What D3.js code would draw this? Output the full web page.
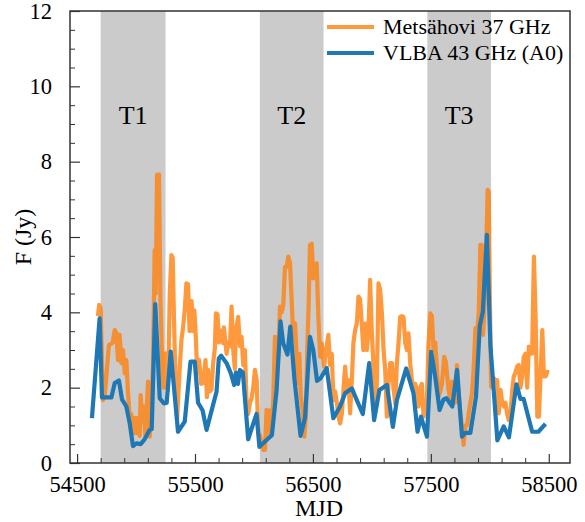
<!DOCTYPE html>
<html>
<head>
<meta charset="utf-8">
<script src="https://cdn.jsdelivr.net/npm/d3@7"></script>
<style>
  html, body { margin: 0; padding: 0; background: #fff; }
  svg { display: block; }
  text { font-family: "Liberation Serif", "Times New Roman", serif; fill: #000; }
</style>
</head>
<body>
<svg id="chart" width="585" height="522"></svg>
<script>
// Metsähovi 37 GHz single-dish light curve (MJD, Jy)
const mhMJD = [54677,54687,54700,54719,54734,54751,54770,54791,54802,54819,54833,54847,54861,54876,54889,54904,54918,54932,54946,54960,
  54974,54989,55003,55017,55031,55039,55054,55065,55079,55102,55116,55130,55144,55158,55167,55178,55195,55207,55224,55235,
  55252,55271,55286,55300,55311,55322,55337,55348,55371,55385,55399,55413,55427,55441,55454,55471,55484,55495,55507,55518,
  55535,55552,55569,55589,55601,55611,55626,55640,55654,55668,55677,55691,55702,55711,55725,55739,55745,55768,55781,55796,
  55810,55824,55838,55847,55866,55881,55895,55909,55923,55938,55951,55966,55980,55994,56008,56023,56036,56051,56065,56079,
  56093,56107,56121,56136,56150,56164,56178,56193,56206,56221,56235,56249,56263,56278,56291,56306,56320,56334,56348,56362,
  56368,56385,56396,56413,56427,56441,56452,56464,56475,56490,56503,56518,56532,56546,56561,56575,56595,56612,56631,56645,
  56660,56674,56688,56703,56716,56731,56745,56758,56773,56788,56801,56815,56830,56843,56858,56872,56886,56900,56914,56928,
  56943,56957,56971,56985,56999,57014,57028,57042,57056,57070,57085,57099,57113,57127,57141,57155,57170,57183,57198,57212,
  57226,57240,57254,57268,57282,57297,57310,57325,57339,57353,57367,57382,57396,57410,57424,57438,57452,57467,57480,57495,
  57509,57523,57537,57552,57566,57580,57594,57613,57626,57639,57650,57665,57679,57693,57707,57722,57735,57750,57764,57778,
  57792,57807,57821,57835,57849,57863,57878,57892,57906,57920,57931,57943,57954,57968,57982,57991,58000,58011,58022,58034,
  58048,58062,58076,58091,58105,58119,58133,58147,58160,58175,58189,58203,58217,58232,58245,58260,58274,58288,58303,58317,
  58331,58345,58359,58374,58388,58403,58416,58431,58445,58459,58473,58488,58501];
const mhFlux = [3.9,4.2,4.1,1.67,1.75,2.4,3.13,3.17,3.2,3.53,3.45,2.73,3.4,2.65,3.0,2.38,2.73,1.85,1.23,1.3,
  0.79,1.2,0.79,1.2,0.72,1.8,1.1,1.5,0.72,2.16,0.7,1.6,2.56,5.65,4.5,7.65,7.66,4.33,2.38,2.0,
  2.91,1.94,4.5,5.52,5.45,3.8,1.85,1.14,2.56,3.27,3.6,4.06,4.77,4.75,3.5,4.3,3.5,4.05,3.35,2.4,
  2.73,2.1,2.12,2.73,1.75,2.47,1.9,1.95,2.65,3.04,3.97,3.95,3.2,3.53,3.45,3.18,3.6,2.9,3.2,3.1,
  4.15,3.0,2.5,3.53,3.88,3.1,3.35,2.6,3.0,1.58,1.3,1.6,1.72,2.0,2.47,2.2,0.79,0.74,0.5,0.35,
  0.35,1.41,0.8,1.4,0.8,1.72,3.35,2.5,2.85,4.15,4.0,4.2,5.21,5.21,5.48,5.3,4.3,3.3,3.71,2.85,
  2.12,2.9,1.8,1.41,0.7,1.3,3.0,4.24,5.79,5.82,4.9,5.21,5.3,3.88,2.82,3.17,2.56,3.0,3.4,2.6,
  2.9,1.67,1.9,1.6,1.23,1.05,1.3,1.9,2.56,1.9,2.2,1.32,2.2,3.18,3.53,3.7,4.42,4.35,3.71,3.0,
  3.7,3.0,3.5,4.86,3.5,2.56,1.5,2.1,4.77,4.6,3.97,3.0,2.47,1.23,2.1,2.65,2.65,2.0,1.58,2.65,
  3.18,3.88,3.9,3.88,3.2,3.0,3.44,2.65,2.2,1.94,2.1,1.94,1.5,2.0,2.1,1.23,1.6,1.7,3.18,3.97,
  3.9,3.0,3.2,2.5,1.76,1.9,2.1,2.82,2.7,2.3,1.94,1.7,2.16,1.9,1.6,2.6,1.9,1.32,0.95,0.48,
  1.0,1.0,1.32,1.6,1.85,2.5,3.58,3.45,3.97,5.79,5.79,3.4,4.1,5.48,7.25,7.2,4.5,2.03,2.0,2.25,
  2.2,2.2,1.32,1.94,1.6,1.5,1.6,1.3,1.14,1.3,1.9,2.29,2.4,2.56,2.6,2.0,2.3,2.82,2.9,2.0,
  3.09,2.9,2.9,5.48,3.9,1.23,1.23,2.4,3.53,2.3,2.3,2.42,2.4];

// VLBA 43 GHz core (A0) flux density (MJD, Jy)
const vlbaMJD = [54626,54691,54711,54791,54819,54855,54881,54918,54946,54974,55003,55039,55073,55116,55133,55163,55201,55237,55260,55294,
  55356,55413,55462,55498,55526,55564,55598,55683,55702,55722,55768,55804,55832,55847,55864,55881,55906,55951,55985,56022,
  56046,56107,56152,56192,56225,56248,56284,56308,56344,56395,56433,56475,56503,56535,56565,56617,56673,56730,56773,56830,
  56872,56923,56977,57019,57064,57127,57178,57212,57291,57353,57387,57416,57467,57503,57537,57574,57608,57632,57682,57722,
  57764,57792,57835,57883,57915,57941,57975,58005,58064,58118,58162,58226,58260,58287,58359,58412,58472];
const vlbaFlux = [1.19,3.84,1.74,1.74,2.12,2.19,1.69,1.5,1.06,0.45,0.52,0.5,0.63,0.88,0.9,4.22,1.72,1.58,1.6,2.96,
  0.83,1.1,2.69,2.69,1.6,1.4,0.88,1.9,2.78,2.85,2.65,2.38,2.07,2.4,2.1,2.47,2.4,0.63,0.96,1.3,
  0.43,0.61,0.74,1.94,3.76,3.18,2.88,3.62,2.2,0.72,1.2,3.35,3.0,2.18,2.25,2.52,1.19,1.5,1.85,1.98,
  1.67,1.3,2.65,1.14,1.94,2.07,0.96,1.67,2.51,1.85,0.83,1.23,0.7,2.95,2.29,1.41,1.69,1.72,1.5,2.47,
  0.7,0.8,0.8,1.76,3.64,4.02,6.06,3.13,0.6,0.97,0.68,2.09,1.7,1.7,0.83,0.83,1.04];

// Flaring periods
const periodNames = ["T1", "T2", "T3"];
const periodStart = [54700, 56050, 57470];
const periodEnd = [55250, 56590, 58010];

// Axis ticks
const xMajorTicks = [54500, 55500, 56500, 57500, 58500];
const xMinorTicks = d3.range(54500, 58700, 200);
const yMajorTicks = [0, 2, 4, 6, 8, 10, 12];
const yMinorTicks = d3.range(0, 12.01, 0.5);

const seriesNames = ["Metsähovi 37 GHz", "VLBA 43 GHz (A0)"];
const seriesColors = ["#ff7f0e", "#1f77b4"];

const margin = { left: 70, right: 15, top: 11, bottom: 59 };
const W = 585, H = 522;
const svg = d3.select("#chart");

const x = d3.scaleLinear().domain([54440, 58680]).range([margin.left, W - margin.right]);
const y = d3.scaleLinear().domain([0, 12]).range([H - margin.bottom, margin.top]);

// shaded periods
const g = svg.append("g");
g.selectAll("rect.period").data(periodNames).join("rect")
  .attr("class", "period")
  .attr("x", (d, i) => x(periodStart[i]))
  .attr("width", (d, i) => x(periodEnd[i]) - x(periodStart[i]))
  .attr("y", y(12))
  .attr("height", y(0) - y(12))
  .attr("fill", "#cbcbcb");

g.selectAll("text.period").data(periodNames).join("text")
  .attr("class", "period")
  .attr("x", (d, i) => x((periodStart[i] + periodEnd[i]) / 2))
  .attr("y", 124)
  .attr("text-anchor", "middle")
  .attr("font-size", 26)
  .text(d => d);

// light curves
const lineGen = d3.line().x(d => x(d[0])).y(d => y(d[1]));
const mhData = mhMJD.map((m, i) => [m, mhFlux[i]]);
const vlbaData = vlbaMJD.map((m, i) => [m, vlbaFlux[i]]);

svg.append("path").datum(mhData)
  .attr("d", lineGen)
  .attr("fill", "none")
  .attr("stroke", seriesColors[0])
  .attr("stroke-opacity", 0.8)
  .attr("stroke-width", 4.2)
  .attr("stroke-linejoin", "round");

svg.append("path").datum(vlbaData)
  .attr("d", lineGen)
  .attr("fill", "none")
  .attr("stroke", seriesColors[1])
  .attr("stroke-width", 4.2)
  .attr("stroke-linejoin", "round");

// axes with inward ticks
const axisColor = "#333";
const xAxis = svg.append("g").attr("transform", `translate(0,${y(0)})`);
xAxis.call(d3.axisBottom(x).tickValues(xMajorTicks).tickSize(-9).tickFormat(d3.format("d")).tickPadding(15));
xAxis.selectAll("text").attr("font-size", 22.5).attr("font-family", "Liberation Serif, serif").attr("fill", "#000").attr("dy", "0.6em");
xAxis.select(".domain").remove();
xAxis.selectAll("line").attr("stroke", axisColor).attr("stroke-width", 1.2);
const xMinor = svg.append("g").attr("transform", `translate(0,${y(0)})`);
xMinor.call(d3.axisBottom(x).tickValues(xMinorTicks.filter(v => !xMajorTicks.includes(v))).tickSize(-5).tickFormat(""));
xMinor.select(".domain").remove();
xMinor.selectAll("line").attr("stroke", axisColor).attr("stroke-width", 1);

const yAxis = svg.append("g").attr("transform", `translate(${margin.left},0)`);
yAxis.call(d3.axisLeft(y).tickValues(yMajorTicks).tickSize(-10).tickFormat(d3.format("d")).tickPadding(18));
yAxis.selectAll("text").attr("font-size", 22.5).attr("font-family", "Liberation Serif, serif").attr("fill", "#000");
yAxis.select(".domain").remove();
yAxis.selectAll("line").attr("stroke", axisColor).attr("stroke-width", 1.2);
const yMinor = svg.append("g").attr("transform", `translate(${margin.left},0)`);
yMinor.call(d3.axisLeft(y).tickValues(yMinorTicks.filter(v => !yMajorTicks.includes(v))).tickSize(-5).tickFormat(""));
yMinor.select(".domain").remove();
yMinor.selectAll("line").attr("stroke", axisColor).attr("stroke-width", 1);

// frame
svg.append("rect")
  .attr("x", margin.left).attr("y", margin.top)
  .attr("width", W - margin.right - margin.left)
  .attr("height", y(0) - margin.top)
  .attr("fill", "none").attr("stroke", axisColor).attr("stroke-width", 1.5);

// axis titles
svg.append("text")
  .attr("x", (margin.left + W - margin.right) / 2 - 1)
  .attr("y", 516)
  .attr("text-anchor", "middle")
  .attr("font-size", 24)
  .text("MJD");

svg.append("text")
  .attr("transform", `translate(31,${(margin.top + y(0)) / 2}) rotate(-90)`)
  .attr("text-anchor", "middle")
  .attr("font-size", 24)
  .text("F (Jy)");

// legend
const legend = svg.append("g");
seriesNames.forEach((name, i) => {
  const ly = 27 + i * 26;
  legend.append("line")
    .attr("x1", 327).attr("x2", 374).attr("y1", ly).attr("y2", ly)
    .attr("stroke", seriesColors[i])
    .attr("stroke-opacity", i === 0 ? 0.8 : 1)
    .attr("stroke-width", 4.2);
  legend.append("text")
    .attr("x", 383).attr("y", ly + 7)
    .attr("font-size", 22)
    .text(name);
});
</script>
</body>
</html>
